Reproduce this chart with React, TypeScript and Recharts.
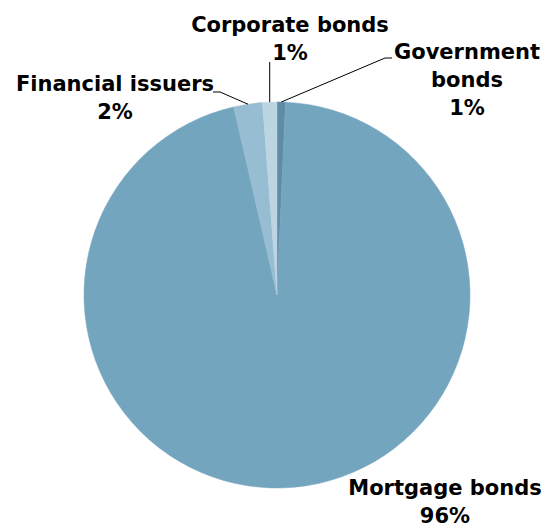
import { PieChart, Pie, Cell } from "recharts";

// Portfolio split by issuer type (percent of total)
const issuerTypes = ["Government bonds", "Mortgage bonds", "Financial issuers", "Corporate bonds"];
const shares = [0.7, 95.6, 2.4, 1.2];
const sliceColors = ["#5F8BA5", "#74A5BF", "#97BDD2", "#BCD5E3"];

const data = issuerTypes.map((name, i) => ({ name, value: shares[i] }));

// Hand-placed label blocks: text lines, centre x, first baseline, leader elbows
type LabelLayout = {
  lines: string[];
  x: number;
  y: number;
  leader: [number, number][] | null;
  vertical?: boolean;
};

const LABEL_LAYOUT: Record<string, LabelLayout> = {
  "Government bonds": { lines: ["Government", "bonds"], x: 467, y: 59, leader: [[385, 58], [392, 58]] },
  "Mortgage bonds": { lines: ["Mortgage bonds"], x: 445, y: 495, leader: null },
  "Financial issuers": { lines: ["Financial issuers"], x: 115, y: 91, leader: [[220, 92], [213, 92]] },
  "Corporate bonds": { lines: ["Corporate bonds"], x: 290, y: 32, leader: [[0, 62]], vertical: true },
};

const LINE_GAP = 28;
const FONT = "'DejaVu Sans', sans-serif";
const RADIAN = Math.PI / 180;

function renderLabel(props: any) {
  const { cx, cy, midAngle, outerRadius, percent, name } = props;
  const layout = LABEL_LAYOUT[name];
  if (!layout) return null;
  const ex = cx + outerRadius * Math.cos(-midAngle * RADIAN);
  const ey = cy + outerRadius * Math.sin(-midAngle * RADIAN);
  const lines = [...layout.lines, `${Math.round(percent * 100)}%`];
  let path = "";
  if (layout.leader) {
    const pts = layout.leader.map(([px, py]) => (layout.vertical ? [ex, py] : [px, py]));
    path = `M${ex},${ey}` + pts.map(([px, py]) => ` L${px},${py}`).join("");
  }
  return (
    <g>
      {path && <path d={path} stroke="#000" strokeWidth={1} fill="none" />}
      <text
        x={layout.x}
        y={layout.y}
        textAnchor="middle"
        fontFamily={FONT}
        fontWeight="bold"
        fontSize={21}
        fill="#000"
      >
        {lines.map((line, i) => (
          <tspan key={i} x={layout.x} dy={i === 0 ? 0 : LINE_GAP}>
            {line}
          </tspan>
        ))}
      </text>
    </g>
  );
}

export default function App() {
  return (
    <div style={{ position: "absolute", left: 0, top: 0, background: "#fff" }}>
      <PieChart width={549} height={528} margin={{ top: 0, right: 0, bottom: 0, left: 0 }}>
        <Pie
          data={data}
          dataKey="value"
          nameKey="name"
          cx={277}
          cy={295}
          outerRadius={193}
          startAngle={90}
          endAngle={-270}
          label={renderLabel}
          labelLine={false}
          isAnimationActive={false}
        >
          {data.map((_, i) => (
            <Cell key={i} fill={sliceColors[i]} stroke={sliceColors[i]} strokeWidth={0.5} />
          ))}
        </Pie>
      </PieChart>
    </div>
  );
}
